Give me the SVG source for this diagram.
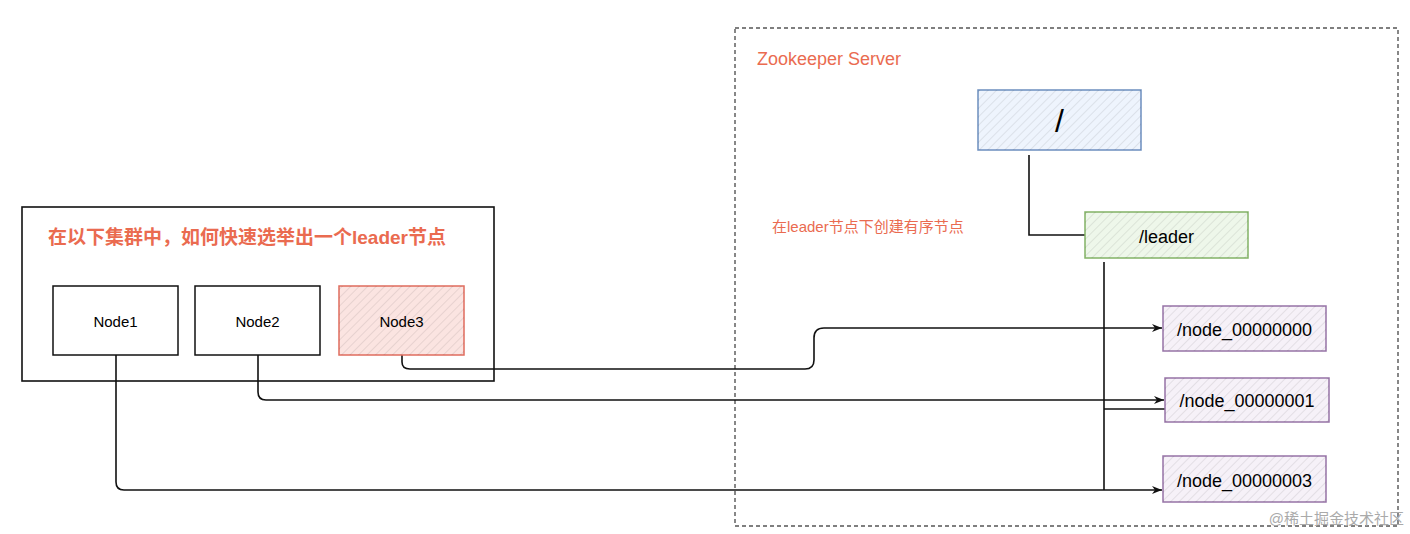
<svg xmlns="http://www.w3.org/2000/svg" width="1410" height="534" viewBox="0 0 1410 534">
<style>
.t{font-family:"Liberation Sans","Noto Sans CJK SC",sans-serif}
.c{fill:none;stroke:#111;stroke-width:1.6}
.n{stroke-width:1.5}
</style>
<defs>
<pattern id="h" width="6" height="6" patternUnits="userSpaceOnUse" patternTransform="rotate(45)"><line x1="0" y1="0" x2="0" y2="6" stroke="#000" stroke-opacity="0.08" stroke-width="2"/></pattern>
<marker id="a" markerWidth="12" markerHeight="10" refX="11" refY="5" orient="auto" markerUnits="userSpaceOnUse"><path d="M1,1 L11,5 L1,9 L4,5 Z" fill="#111"/></marker>
</defs>
<rect width="1410" height="534" fill="#fff"/>
<g id="cluster">
<rect x="22" y="207" width="472" height="174" fill="none" stroke="#111" stroke-width="1.6"/>
<text class="t" x="48" y="244" font-size="19" font-weight="bold" fill="#ea6b50">在以下集群中，如何快速选举出一个leader节点</text>
</g>
<g id="zk">
<rect x="735" y="28" width="663" height="498" fill="none" stroke="#555" stroke-width="1.4" stroke-dasharray="4 3"/>
<text class="t" x="757" y="65" font-size="18" fill="#ea6b50">Zookeeper Server</text>
<text class="t" x="772" y="232" font-size="15" fill="#ea6b50">在leader节点下创建有序节点</text>
</g>
<g id="connectors">
<path class="c" d="M1029,155 V235 H1085"/>
<path class="c" d="M1104,262 V490"/>
<path class="c" d="M1104,409 H1165"/>
<path class="c" marker-end="url(#a)" d="M402,355 V362 Q402,369 410,369 H805 Q814,369 814,360 V338 Q814,328 824,328 H1162"/>
<path class="c" marker-end="url(#a)" d="M258,355 V392 Q258,400 266,400 H1164"/>
<path class="c" marker-end="url(#a)" d="M116,355 V482 Q116,490 124,490 H1162"/>
</g>
<g id="node1"><rect x="53" y="286" width="125" height="69" fill="#fff" stroke="#111" class="n"/><text class="t" x="115.5" y="327" font-size="15" text-anchor="middle">Node1</text></g>
<g id="node2"><rect x="195" y="286" width="125" height="69" fill="#fff" stroke="#111" class="n"/><text class="t" x="257.5" y="327" font-size="15" text-anchor="middle">Node2</text></g>
<g id="node3"><rect x="339" y="286" width="125" height="69" fill="#fbe4e1" stroke="#e06c5e" class="n"/><rect x="339" y="286" width="125" height="69" fill="url(#h)"/><text class="t" x="401.5" y="327" font-size="15" text-anchor="middle">Node3</text></g>
<g id="root"><rect x="978" y="90" width="163" height="60" fill="#eef4fd" stroke="#6c8ebf" class="n"/><rect x="978" y="90" width="163" height="60" fill="url(#h)"/><text class="t" x="1059.5" y="132" font-size="32" text-anchor="middle">/</text></g>
<g id="leader"><rect x="1085" y="212" width="163" height="46" fill="#eef7ea" stroke="#82b366" class="n"/><rect x="1085" y="212" width="163" height="46" fill="url(#h)"/><text class="t" x="1166.5" y="243" font-size="18" text-anchor="middle">/leader</text></g>
<g id="n0"><rect x="1163" y="306" width="163" height="45" fill="#f6f1f8" stroke="#9673a6" class="n"/><rect x="1163" y="306" width="163" height="45" fill="url(#h)"/><text class="t" x="1244.5" y="336" font-size="18" text-anchor="middle">/node_00000000</text></g>
<g id="n1"><rect x="1165" y="378" width="164" height="44" fill="#f6f1f8" stroke="#9673a6" class="n"/><rect x="1165" y="378" width="164" height="44" fill="url(#h)"/><text class="t" x="1247" y="407" font-size="18" text-anchor="middle">/node_00000001</text></g>
<g id="n3"><rect x="1163" y="456" width="163" height="46" fill="#f6f1f8" stroke="#9673a6" class="n"/><rect x="1163" y="456" width="163" height="46" fill="url(#h)"/><text class="t" x="1244.5" y="487" font-size="18" text-anchor="middle">/node_00000003</text></g>
<text class="t" x="1404" y="524" font-size="15" fill="#aaa" text-anchor="end">@稀土掘金技术社区</text>
</svg>
